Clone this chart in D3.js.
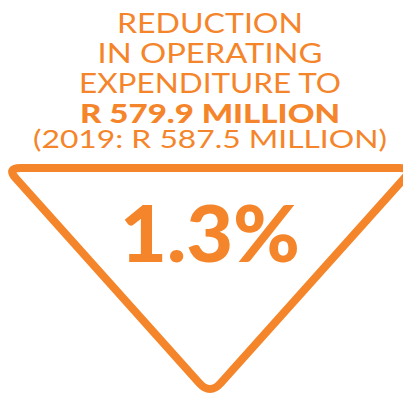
<!DOCTYPE html>
<html>
<head>
<meta charset="utf-8">
<script src="https://cdn.jsdelivr.net/npm/d3@7"></script>
<style>
  html, body { margin: 0; padding: 0; background: #ffffff; }
  svg { display: block; }
</style>
</head>
<body>
<div id="chart"></div>
<script>
// Headline content
const titleLines = ["REDUCTION", "IN OPERATING", "EXPENDITURE TO"];
const currency = "R";
const unit = "MILLION";
const currentValue = 579.9;
const priorYear = 2019;
const priorValue = 587.5;
const changePct = [1.3];

const W = 403, H = 394;
const orange = "#F5852A";
const fmt = d3.format(".1f");

const svg = d3.select("#chart").append("svg")
  .attr("width", W).attr("height", H);

const cx = 210;

const lines = [
  { text: titleLines[0], bold: false, y: 33, w: 186, size: 27 },
  { text: titleLines[1], bold: false, y: 63, w: 225, size: 27 },
  { text: titleLines[2], bold: false, y: 93, w: 262, size: 27 },
  { text: `${currency} ${fmt(currentValue)} ${unit}`, bold: true, y: 123, w: 260, size: 26 },
  { text: `(${priorYear}: ${currency} ${fmt(priorValue)} ${unit})`, bold: false, y: 148, w: 354, size: 25 }
];

// Headline block: one text element, one tspan per line
svg.append("text")
  .attr("text-anchor", "middle")
  .attr("fill", orange)
  .attr("font-family", "Lato, 'Open Sans', sans-serif")
  .selectAll("tspan")
  .data(lines)
  .join("tspan")
  .attr("x", cx)
  .attr("y", d => d.y)
  .attr("font-weight", d => d.bold ? 900 : 400)
  .attr("font-size", d => d.size)
  .attr("textLength", d => d.w)
  .attr("lengthAdjust", "spacingAndGlyphs")
  .text(d => d.text);

// Downward-pointing triangle with rounded corners
const verts = [[6.5, 168], [413.5, 168], [210, 395]];
const radii = [14, 14, 16];

function roundedPolygon(pts, rs) {
  const p = d3.path();
  const n = pts.length;
  const along = (a, b, r) => {
    const dx = b[0] - a[0], dy = b[1] - a[1];
    const L = Math.hypot(dx, dy);
    return [a[0] + dx * r / L, a[1] + dy * r / L];
  };
  for (let i = 0; i < n; i++) {
    const prev = pts[(i + n - 1) % n], cur = pts[i], next = pts[(i + 1) % n];
    const a = along(cur, prev, rs[i]);
    const b = along(cur, next, rs[i]);
    if (i === 0) p.moveTo(a[0], a[1]); else p.lineTo(a[0], a[1]);
    p.quadraticCurveTo(cur[0], cur[1], b[0], b[1]);
  }
  p.closePath();
  return p.toString();
}

svg.append("path")
  .attr("d", roundedPolygon(verts, radii))
  .attr("fill", "none")
  .attr("stroke", orange)
  .attr("stroke-width", 8)
  .attr("stroke-linejoin", "round");

// Percentage change inside the triangle
svg.append("g").selectAll("text")
  .data(changePct)
  .join("text")
  .attr("x", cx)
  .attr("y", 262)
  .attr("text-anchor", "middle")
  .attr("fill", orange)
  .attr("font-family", "Lato, 'Open Sans', sans-serif")
  .attr("font-weight", 900)
  .attr("font-size", 79)
  .attr("textLength", 180)
  .attr("lengthAdjust", "spacingAndGlyphs")
  .text(d => `${fmt(d)}%`);
</script>
</body>
</html>
